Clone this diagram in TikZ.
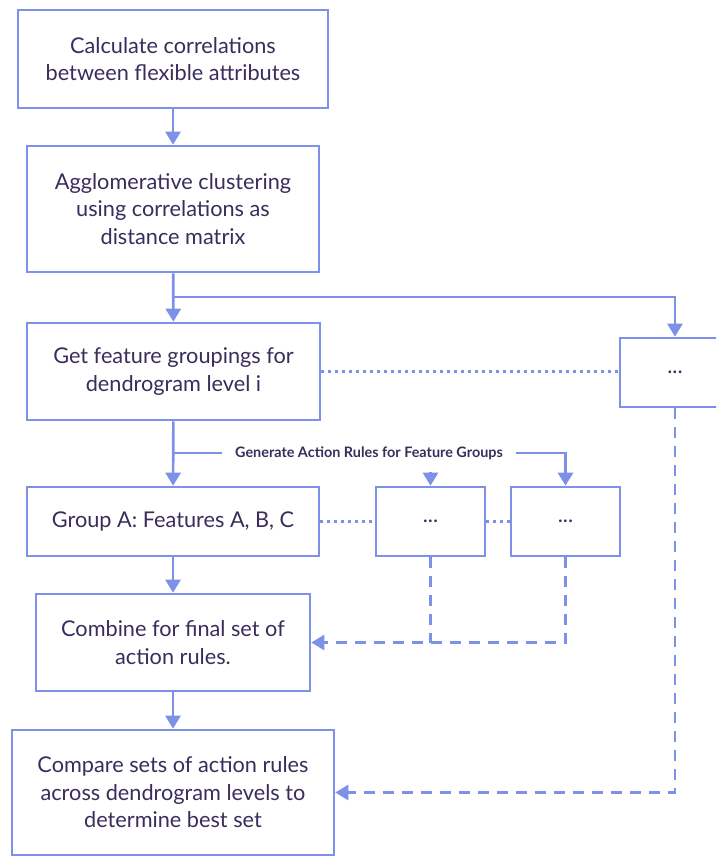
\documentclass[tikz,border=0pt]{standalone}
\usepackage{fontspec}
\setmainfont{Lato}
\usetikzlibrary{arrows.meta}
\definecolor{boxc}{RGB}{125,145,232}
\definecolor{txtc}{RGB}{58,45,92}
\tikzset{
  stepbox/.style={draw=boxc, line width=2.6pt, fill=white, align=center, text=txtc,
    font=\fontsize{21.7}{27.5}\selectfont, inner sep=0pt},
  conn/.style={draw=boxc, line width=2.6pt},
  arr/.style={conn, -{Triangle[width=15pt,length=13pt]}},
  dotline/.style={draw=boxc, line width=2.6pt, dash pattern=on 2.6pt off 4.4pt},
  dashline/.style={draw=boxc, line width=2.6pt, dash pattern=on 11pt off 8pt},
  dasharr/.style={dashline, -{Triangle[width=15pt,length=13pt]}},
}
\begin{document}
\begin{tikzpicture}[x=1pt,y=-1pt]
\useasboundingbox (0,0) rectangle (716,857);
\clip (0,0) rectangle (716,857);
\node[stepbox, minimum width=310pt, minimum height=98pt] (b1) at (173,59) {Calculate correlations\\between flexible attributes};
\node[stepbox, minimum width=292pt, minimum height=126pt] (b2) at (173,209) {Agglomerative clustering\\using correlations as\\distance matrix};
\node[stepbox, minimum width=293pt, minimum height=97pt] (b3) at (173.5,371.5) {Get feature groupings for\\dendrogram level i};
\node[stepbox, minimum width=110pt, minimum height=69pt] (r1) at (675,372.5) {...};
\node[stepbox, minimum width=292pt, minimum height=69pt] (ga) at (173,521.5) {Group A: Features A, B, C};
\node[stepbox, minimum width=109pt, minimum height=69pt] (m1) at (430.5,521.5) {...};
\node[stepbox, minimum width=109pt, minimum height=69pt] (m2) at (565.5,521.5) {...};
\node[stepbox, minimum width=274pt, minimum height=97pt] (cb) at (173,642.5) {Combine for final set of\\action rules.};
\node[stepbox, minimum width=322pt, minimum height=125pt] (cmp) at (173,792.5) {Compare sets of action rules\\across dendrogram levels to\\determine best set};
\node[text=txtc, font=\bfseries\fontsize{14.4}{16}\selectfont, inner xsep=13pt, inner ysep=3pt] (lab) at (369,453) {Generate Action Rules for Feature Groups};
% connectors
\draw[arr] (b1) -- (b2);
\draw[arr] (b2) -- (b3);
\coordinate (j1) at (173,297);
\draw[arr] (j1) -| (r1.north);
\draw[dotline] (b3.east) -- (b3.east -| r1.west);
\draw[arr] (b3) -- (ga);
\coordinate (j2) at (173,453);
\draw[conn] (j2) -- (lab.west);
\draw[arr] (lab.east) -| (m2.north);
\coordinate (s1) at (430.5,472);
\draw[arr] (s1) -- (m1.north);
\draw[dotline] (ga.east) -- (m1.west);
\draw[dotline] (m1.east) -- (m2.west);
\draw[arr] (ga) -- (cb);
\draw[arr] (cb) -- (cmp);
\coordinate (c1) at (m1.south |- cb.east);
\draw[dashline] (m1.south) -- (c1);
\draw[dasharr] (m2.south) |- (cb.east);
\draw[dasharr] (r1.south) |- (cmp.east);
\end{tikzpicture}
\end{document}
